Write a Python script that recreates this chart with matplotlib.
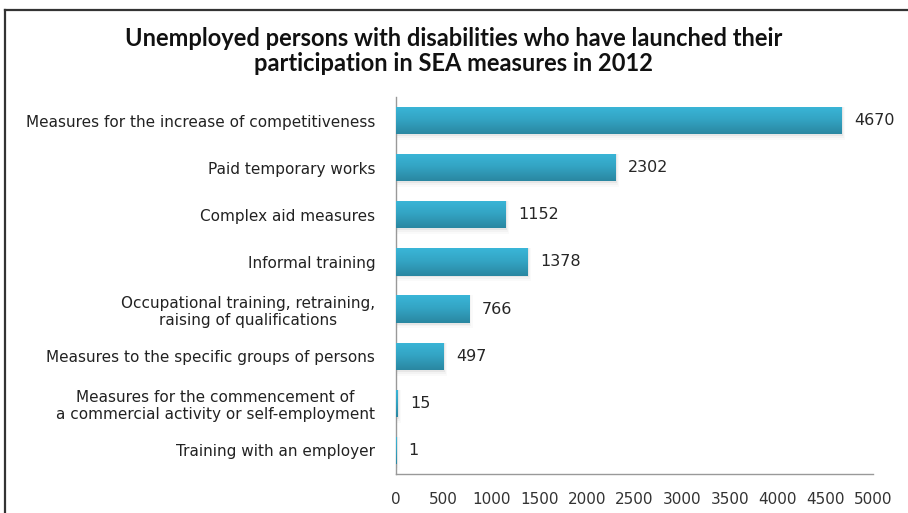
import numpy as np
import matplotlib.pyplot as plt
from matplotlib.colors import LinearSegmentedColormap
from matplotlib.patches import Rectangle
from matplotlib.lines import Line2D

# Категории мер и число участников
categories = [
    "Measures for the increase of competitiveness",
    "Paid temporary works",
    "Complex aid measures",
    "Informal training",
    "Occupational training, retraining,\nraising of qualifications",
    "Measures to the specific groups of persons",
    "Measures for the commencement of\na commercial activity or self-employment",
    "Training with an employer",
]
values = [4670, 2302, 1152, 1378, 766, 497, 15, 1]
x_ticks = [0, 500, 1000, 1500, 2000, 2500, 3000, 3500, 4000, 4500, 5000]

title = ("Unemployed persons with disabilities who have launched their\n"
         "participation in SEA measures in 2012")

plt.rcParams['font.family'] = ['DejaVu Sans']

fig = plt.figure(figsize=(9.08, 5.13), dpi=100)
ax = fig.add_axes([396 / 908, 39 / 513, 477 / 908, 377 / 513])

# Градиент для столбцов: светлый сверху, темнее снизу
grad_cmap = LinearSegmentedColormap.from_list("bar_grad", ["#3ab6d8", "#33a3c2", "#2a87a1"])
grad = np.linspace(0, 1, 64).reshape(-1, 1)

y = np.arange(len(categories))
bar_h = 0.58
bars = ax.barh(y, values, height=bar_h, color="none", edgecolor="none", zorder=3)

for bar, v in zip(bars, values):
    x0, y0 = bar.get_x(), bar.get_y()
    w, h = bar.get_width(), bar.get_height()
    # тень под столбцом
    for k, a in enumerate([0.10, 0.06, 0.03]):
        off = 0.04 * (k + 1)
        ax.add_patch(Rectangle((x0, y0), w + 12 * (k + 1), h + off,
                               facecolor="#7a7a7a", edgecolor="none", alpha=a, zorder=2))
    # ось y перевёрнута, поэтому верх столбца — это y0
    im = ax.imshow(grad, cmap=grad_cmap, aspect="auto", origin="upper",
                   extent=(x0, x0 + max(w, 8), y0 + h, y0), zorder=3)
    im.set_clip_path(Rectangle((x0, y0), max(w, 8), h, transform=ax.transData))
    ax.text(v + 130, y0 + h / 2, str(v), va="center", ha="left",
            fontsize=11.5, color="#262626", zorder=4)

ax.set_ylim(len(categories) - 0.5, -0.5)
ax.set_xlim(0, 5000)
ax.set_xticks(x_ticks)
ax.set_xticklabels([str(t) for t in x_ticks], fontsize=11, color="#333333")
ax.set_yticks(y)
ax.set_yticklabels(categories, fontsize=11, color="#222222", multialignment="center")
ax.tick_params(axis="both", length=0)
ax.tick_params(axis="x", pad=13)
ax.tick_params(axis="y", pad=15)

for side in ["top", "right"]:
    ax.spines[side].set_visible(False)
ax.spines["left"].set_color("#999999")
ax.spines["bottom"].set_color("#999999")
ax.spines["left"].set_linewidth(1)
ax.spines["bottom"].set_linewidth(1)

fig.text(0.5, 0.9, title, ha="center", va="center", fontsize=17,
         fontweight="bold", family=["Lato", "DejaVu Sans"],
         linespacing=1.12, color="#111111")

# Рамка вокруг области диаграммы
fig.add_artist(Line2D([5 / 908, 1], [1 - 10 / 513, 1 - 10 / 513],
                      transform=fig.transFigure, color="#333333", linewidth=1.6))
fig.add_artist(Line2D([5 / 908, 5 / 908], [0, 1 - 10 / 513],
                      transform=fig.transFigure, color="#333333", linewidth=1.6))

fig.savefig("out.png", dpi=100)
